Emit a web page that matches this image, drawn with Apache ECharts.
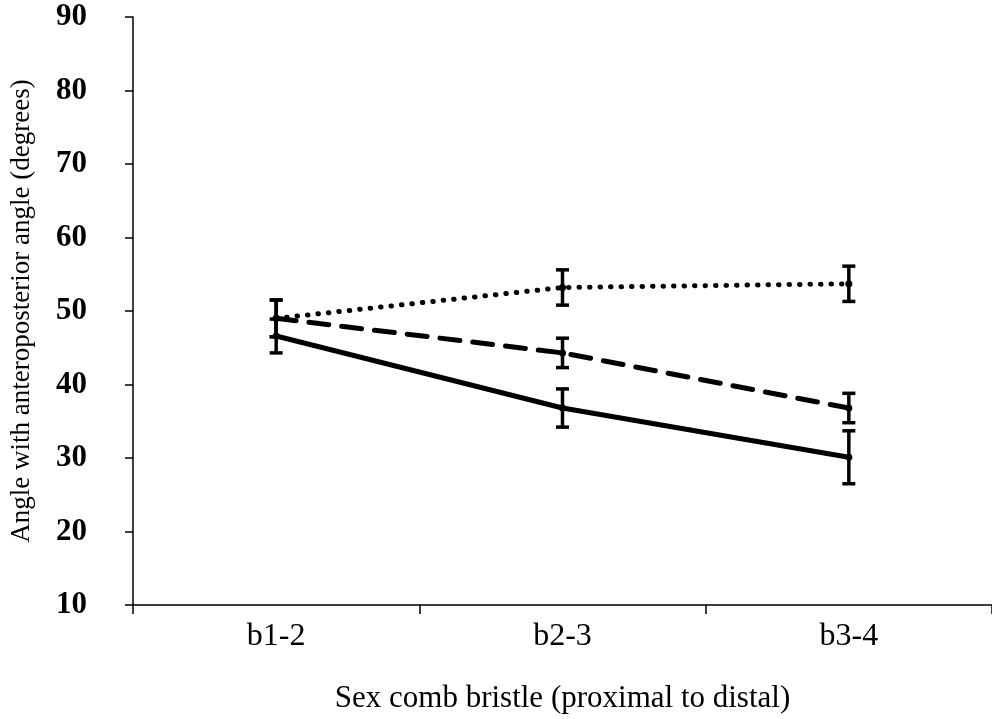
<!DOCTYPE html>
<html>
<head>
<meta charset="utf-8">
<script src="https://cdn.jsdelivr.net/npm/echarts@6/dist/echarts.min.js"></script>
<style>
  html, body { margin: 0; padding: 0; background: #fff; }
  #chart { width: 992px; height: 719px; }
</style>
</head>
<body>
<div id="chart"></div>
<script>
// Bristle positions along the sex comb
var categories = ['b1-2', 'b2-3', 'b3-4'];

// Mean angles (degrees) for the three groups
var dottedMeans = [49.0, 53.2, 53.7];
var dashedMeans = [49.0, 44.3, 36.8];
var solidMeans  = [46.6, 36.8, 30.1];

// Error bar half-widths (degrees)
var dottedErr = [2.5, 2.4, 2.4];
var dashedErr = [2.5, 2.0, 2.0];
var solidErr  = [2.3, 2.6, 3.6];

// Y axis range and step
var yMin = 10, yMax = 90, yStep = 10;

var FONT = '"Liberation Serif", "DejaVu Serif", serif';

function errData(means, errs) {
  return means.map(function (m, i) { return [i, m - errs[i], m + errs[i]]; });
}

function renderErrorBar(params, api) {
  var x = api.value(0);
  var lo = api.coord([x, api.value(1)]);
  var hi = api.coord([x, api.value(2)]);
  var cap = 6.5;
  var style = { stroke: '#000', lineWidth: 3.5 };
  return {
    type: 'group',
    children: [
      { type: 'line', shape: { x1: lo[0], y1: lo[1], x2: hi[0], y2: hi[1] }, style: style },
      { type: 'line', shape: { x1: lo[0] - cap, y1: lo[1], x2: lo[0] + cap, y2: lo[1] }, style: style },
      { type: 'line', shape: { x1: hi[0] - cap, y1: hi[1], x2: hi[0] + cap, y2: hi[1] }, style: style }
    ]
  };
}

function lineSeries(name, data, lineStyle) {
  return {
    name: name,
    type: 'line',
    data: data,
    symbol: 'circle',
    symbolSize: 7,
    itemStyle: { color: '#000' },
    lineStyle: lineStyle,
    z: 3,
    animation: false
  };
}

function errSeries(name, means, errs) {
  return {
    name: name,
    type: 'custom',
    renderItem: renderErrorBar,
    data: errData(means, errs),
    encode: { x: 0, y: [1, 2] },
    z: 4,
    animation: false
  };
}

var chart = echarts.init(document.getElementById('chart'), null, { renderer: 'canvas' });

chart.setOption({
  backgroundColor: '#fff',
  animation: false,
  grid: { left: 120, right: -2, top: 17, bottom: 113, containLabel: false },
  xAxis: {
    type: 'category',
    data: categories,
    boundaryGap: true,
    axisLine: { show: true, lineStyle: { color: '#000', width: 1.5 } },
    axisTick: { show: true, length: 9, inside: false, lineStyle: { color: '#000', width: 1.5 } },
    axisLabel: { color: '#000', fontFamily: FONT, fontSize: 32, margin: 16 },
    name: 'Sex comb bristle (proximal to distal)',
    nameLocation: 'middle',
    nameGap: 78,
    nameTextStyle: { color: '#000', fontFamily: FONT, fontSize: 31 },
    splitLine: { show: false }
  },
  yAxis: {
    type: 'value',
    min: yMin,
    max: yMax,
    interval: yStep,
    axisLine: { show: true, onZero: false, lineStyle: { color: '#000', width: 1.5 } },
    axisTick: { show: true, length: 8, lineStyle: { color: '#000', width: 1.5 } },
    axisLabel: { color: '#000', fontFamily: FONT, fontSize: 31, fontWeight: 'bold', margin: 46 },
    splitLine: { show: false },
    name: 'Angle with anteroposterior angle (degrees)',
    nameLocation: 'middle',
    nameGap: 98,
    nameTextStyle: { color: '#000', fontFamily: FONT, fontSize: 27 }
  },
  series: [
    lineSeries('dotted', dottedMeans, { color: '#000', width: 5, type: [0.5, 10], cap: 'round' }),
    lineSeries('dashed', dashedMeans, { color: '#000', width: 5, type: [20, 13], cap: 'round' }),
    lineSeries('solid', solidMeans, { color: '#000', width: 5, type: 'solid' }),
    errSeries('dottedErr', dottedMeans, dottedErr),
    errSeries('dashedErr', dashedMeans, dashedErr),
    errSeries('solidErr', solidMeans, solidErr)
  ]
});
</script>
</body>
</html>
